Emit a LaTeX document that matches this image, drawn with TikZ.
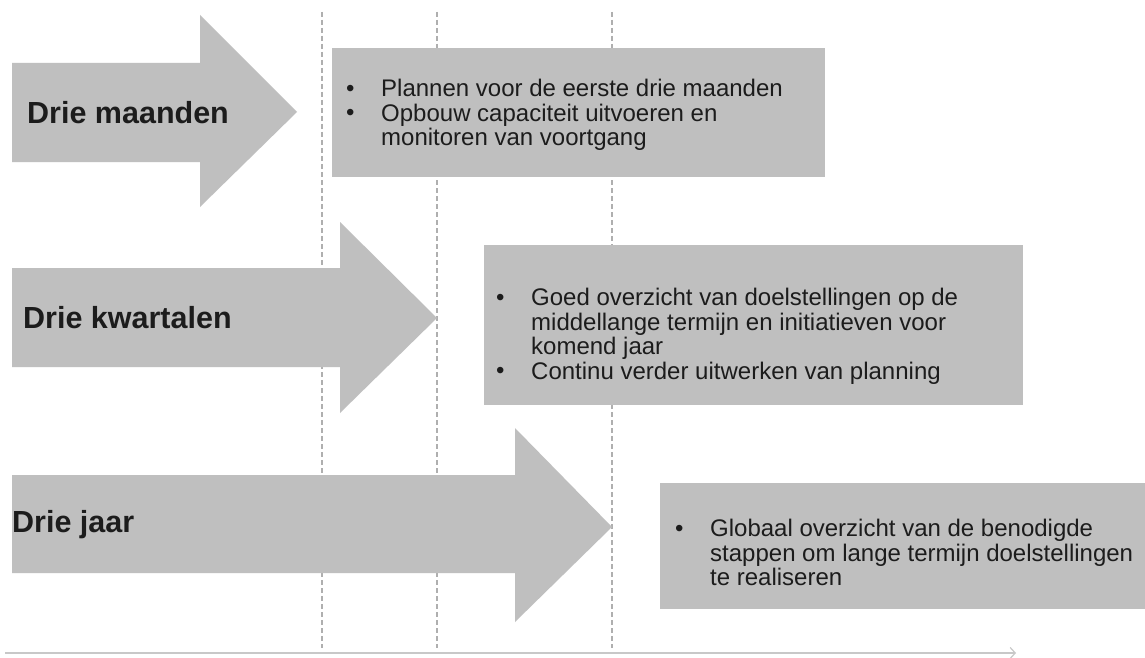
\documentclass[tikz,border=0pt]{standalone}
\usepackage{fontspec}
\setmainfont{Liberation Sans}
\usetikzlibrary{arrows.meta}
\definecolor{shapegray}{RGB}{191,191,191}
\definecolor{dashgray}{RGB}{175,175,175}
\definecolor{axisgray}{RGB}{200,200,200}
\definecolor{txt}{RGB}{28,28,28}
\newcommand{\bul}{\makebox[35pt][l]{\raisebox{0.5pt}{\textbullet}}}
\newcommand{\ind}{\hspace*{35pt}}
\tikzset{
  bigarrow/.style={fill=shapegray, draw=none},
  infobox/.style={fill=shapegray, draw=none},
  lbl/.style={anchor=west, inner sep=0pt, text=txt, font=\fontsize{30.5}{34}\selectfont\bfseries},
  boxtext/.style={anchor=north west, inner sep=0pt, align=left, text=txt, font=\fontsize{24}{24.5}\selectfont},
  timeline/.style={draw=dashgray, line width=1.1pt, dash pattern=on 5pt off 3pt},
  axis/.style={draw=axisgray, line width=1.2pt, -{Straight Barb[length=5pt,width=11pt]}}
}
\begin{document}
\begin{tikzpicture}[x=1pt,y=-1pt]
\useasboundingbox[fill=white] (0,0) rectangle (1145,658);

% dashed time lines
\coordinate (t1a) at (322,12); \coordinate (t1b) at (322,648);
\coordinate (t2a) at (437,12); \coordinate (t2b) at (437,648);
\coordinate (t3a) at (612,12); \coordinate (t3b) at (612,648);
\draw[timeline] (t1a) -- (t1b);
\draw[timeline] (t2a) -- (t2b);
\draw[timeline] (t3a) -- (t3b);

% axis
\coordinate (ax0) at (5,653);
\coordinate (ax1) at (1016,653);
\draw[axis] (ax0) -- (ax1);

% arrows
\fill[bigarrow] (12,63) -- (200,63) -- (200,15) -- (297,112) -- (200,207) -- (200,162) -- (12,162) -- cycle;
\fill[bigarrow] (12,268) -- (340,268) -- (340,222) -- (437,318) -- (340,413) -- (340,367) -- (12,367) -- cycle;
\fill[bigarrow] (12,475) -- (515,475) -- (515,428) -- (612,527) -- (515,622) -- (515,573) -- (12,573) -- cycle;

\node[lbl] (l1) at (27,113) {Drie maanden};
\node[lbl] (l2) at (23,318) {Drie kwartalen};
\node[lbl] (l3) at (12,525) {Drie jaar};

% boxes
\fill[infobox] (332,48) rectangle (825,177);
\fill[infobox] (484,245) rectangle (1023,405);
\fill[infobox] (660,483) rectangle (1145,609);

\node[boxtext] (b1) at (346,79) {\bul Plannen voor de eerste drie maanden\\
\bul Opbouw capaciteit uitvoeren en\\
\ind monitoren van voortgang};

\node[boxtext] (b2) at (496,288) {\bul Goed overzicht van doelstellingen op de\\
\ind middellange termijn en initiatieven voor\\
\ind komend jaar\\
\bul Continu verder uitwerken van planning};

\node[boxtext] (b3) at (675,519) {\bul Globaal overzicht van de benodigde\\
\ind stappen om lange termijn doelstellingen\\
\ind te realiseren};
\end{tikzpicture}
\end{document}
